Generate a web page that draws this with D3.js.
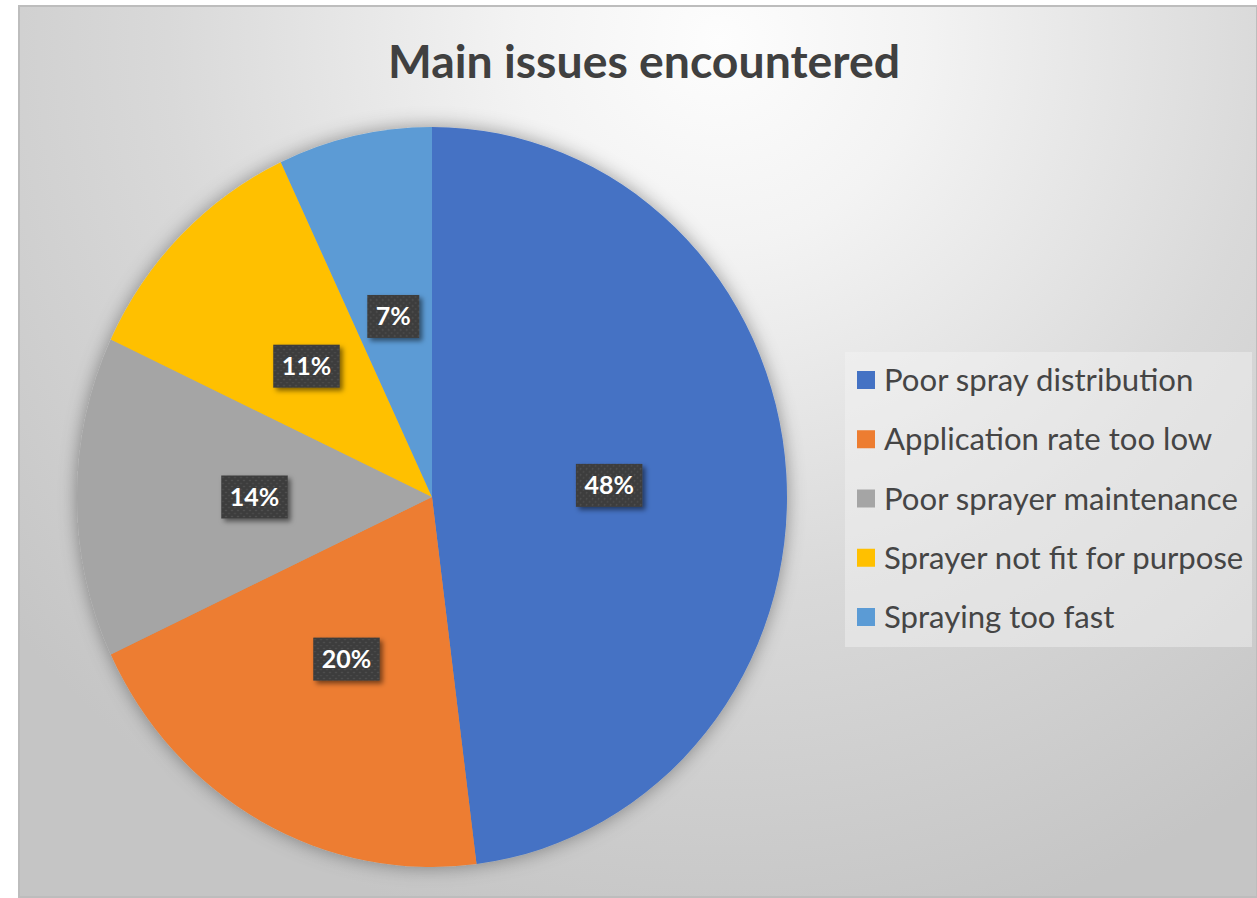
<!DOCTYPE html>
<html>
<head>
<meta charset="utf-8">
<script src="https://cdn.jsdelivr.net/npm/d3@7"></script>
<style>
  html, body { margin: 0; padding: 0; background: #ffffff; }
  svg { display: block; }
</style>
</head>
<body>
<svg id="chart" width="1257" height="898"></svg>
<script>
// Survey result: share of main issues encountered
const titleText = "Main issues encountered";
const categories = [
  "Poor spray distribution",
  "Application rate too low",
  "Poor sprayer maintenance",
  "Sprayer not fit for purpose",
  "Spraying too fast"
];
const shares = [48, 20, 14, 11, 7];
const palette = ["#4472C4", "#ED7D31", "#A5A5A5", "#FFC000", "#5B9BD5"];

const svg = d3.select("#chart");
const W = 1257, H = 898;
const frame = { x: 19, y: 6, w: W - 19, h: H - 7 };

const defs = svg.append("defs");

// Soft radial background
const bg = defs.append("radialGradient")
  .attr("id", "bgGrad").attr("gradientUnits", "userSpaceOnUse")
  .attr("cx", 720).attr("cy", 40).attr("r", 920);
[[0, "#fdfdfd"], [0.22, "#f3f3f3"], [0.6, "#d9d9d9"], [1, "#c5c5c5"]]
  .forEach(([o, c]) => bg.append("stop").attr("offset", o).attr("stop-color", c));

// Shadow around the pie
const pieShadow = defs.append("filter").attr("id", "pieShadow")
  .attr("x", "-10%").attr("y", "-10%").attr("width", "120%").attr("height", "120%");
pieShadow.append("feDropShadow").attr("dx", 0).attr("dy", 0)
  .attr("stdDeviation", 9).attr("flood-color", "#000").attr("flood-opacity", 0.38);

// Shadow under the label boxes
const boxShadow = defs.append("filter").attr("id", "boxShadow")
  .attr("x", "-30%").attr("y", "-30%").attr("width", "160%").attr("height", "160%");
boxShadow.append("feDropShadow").attr("dx", 3).attr("dy", 3)
  .attr("stdDeviation", 2.5).attr("flood-color", "#000").attr("flood-opacity", 0.5);

// Dotted texture for the label boxes
const dots = defs.append("pattern").attr("id", "dots")
  .attr("patternUnits", "userSpaceOnUse").attr("width", 6).attr("height", 6);
dots.append("rect").attr("width", 6).attr("height", 6).attr("fill", "#3d3d3d");
dots.append("circle").attr("cx", 1.5).attr("cy", 1.5).attr("r", 0.8).attr("fill", "#5a5a5a");
dots.append("circle").attr("cx", 4.5).attr("cy", 4.5).attr("r", 0.8).attr("fill", "#525252");

// Chart frame
svg.append("rect")
  .attr("x", frame.x).attr("y", frame.y).attr("width", frame.w).attr("height", frame.h)
  .attr("fill", "url(#bgGrad)").attr("stroke", "#bdbdbd").attr("stroke-width", 2);

// Title, sized to its slot
const title = svg.append("text")
  .attr("x", 644).attr("y", 78)
  .attr("text-anchor", "middle")
  .attr("font-family", "Lato, 'Open Sans', sans-serif")
  .attr("font-weight", 700)
  .attr("fill", "#404040")
  .attr("font-size", 44)
  .text(titleText);
{
  const w = title.node().getComputedTextLength();
  title.attr("font-size", 44 * 512 / w);
}

// Pie (slightly taller than wide)
const cx = 432, cy = 497, R = 355, sy = 370 / 355;
const pie = d3.pie().sort(null).value(d => d)(shares);
const arc = d3.arc().innerRadius(0).outerRadius(R);

const pieG = svg.append("g")
  .attr("transform", `translate(${cx},${cy}) scale(1,${sy})`)
  .attr("filter", "url(#pieShadow)");
pieG.selectAll("path").data(pie).join("path")
  .attr("d", arc)
  .attr("fill", (d, i) => palette[i]);

// Data labels at mid-radius
const fmt = d => d + "%";
const labelG = svg.append("g");
pie.forEach((d, i) => {
  const [x, y] = arc.centroid(d);
  const px = cx + x, py = cy + y * sy;
  const g = labelG.append("g").attr("transform", `translate(${px},${py})`);
  const box = g.append("rect").attr("fill", "url(#dots)").attr("filter", "url(#boxShadow)");
  const t = g.append("text")
    .attr("text-anchor", "middle").attr("dy", "0.36em")
    .attr("font-family", "Lato, 'Open Sans', sans-serif")
    .attr("font-weight", 700).attr("font-size", 25)
    .attr("fill", "#ffffff")
    .text(fmt(shares[i]));
  const tw = t.node().getComputedTextLength();
  const bw = tw + 17, bh = 43;
  box.attr("x", -bw / 2).attr("y", -bh / 2).attr("width", bw).attr("height", bh);
});

// Legend
const lg = svg.append("g");
lg.append("rect")
  .attr("x", 845).attr("y", 352).attr("width", 407).attr("height", 295)
  .attr("fill", "#f4f4f4").attr("fill-opacity", 0.45);
const rowY = d3.scalePoint().domain(categories).range([380, 617]);
const items = lg.selectAll("g.item").data(categories).join("g")
  .attr("class", "item")
  .attr("transform", d => `translate(857,${rowY(d)})`);
items.append("rect")
  .attr("x", 0).attr("y", -9).attr("width", 18).attr("height", 18)
  .attr("fill", (d, i) => palette[i]);
const ltext = items.append("text")
  .attr("x", 27).attr("dy", "0.36em")
  .attr("font-family", "Lato, 'Open Sans', sans-serif")
  .attr("font-size", 27)
  .attr("fill", "#454545")
  .text(d => d);
{
  const w = ltext.nodes()[2].getComputedTextLength();
  ltext.attr("font-size", 27 * 354 / w);
}
</script>
</body>
</html>
